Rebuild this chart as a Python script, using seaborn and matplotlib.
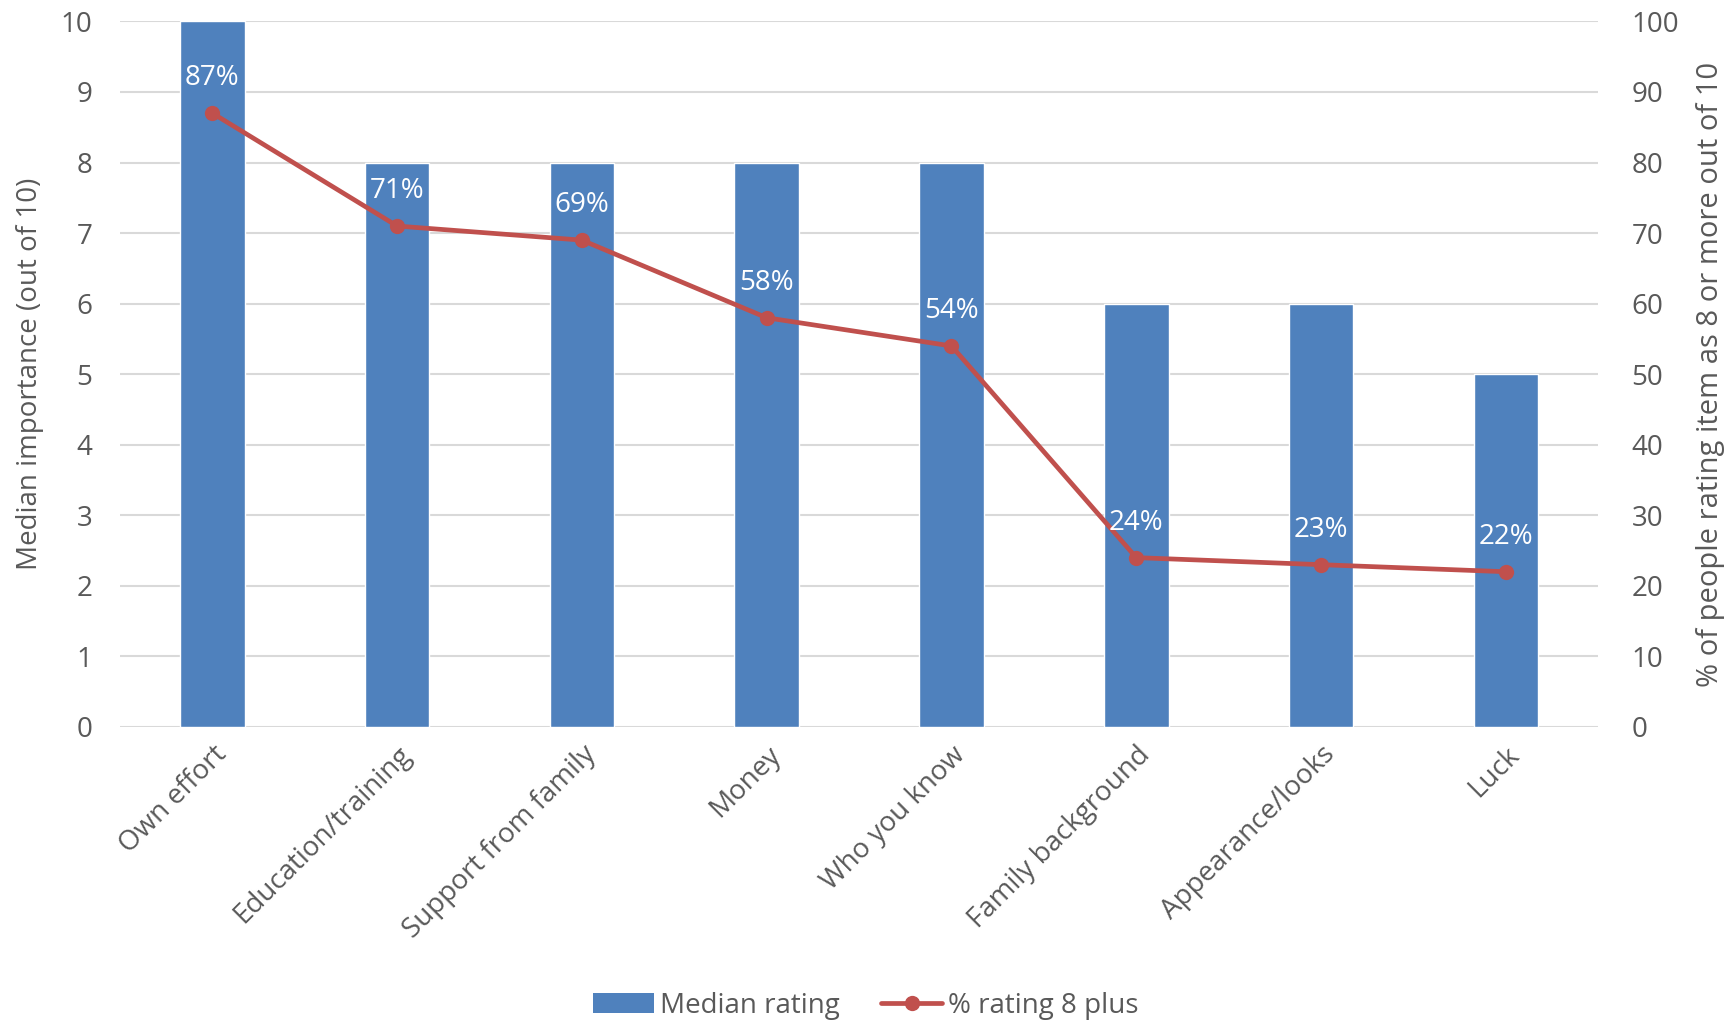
import matplotlib
matplotlib.use("Agg")
import matplotlib.pyplot as plt
import seaborn as sns
import pandas as pd
from matplotlib.patches import Patch
from matplotlib.lines import Line2D

categories = ["Own effort", "Education/training", "Support from family", "Money",
              "Who you know", "Family background", "Appearance/looks", "Luck"]
median_rating = [10, 8, 8, 8, 8, 6, 6, 5]
pct_8_plus = [87, 71, 69, 58, 54, 24, 23, 22]
left_ticks = list(range(0, 11))
right_ticks = list(range(0, 101, 10))

sns.set_style("white")
plt.rcParams['font.family'] = ['Open Sans', 'DejaVu Sans']

BLUE = "#4F81BD"
RED = "#C0504D"
GREY = "#595959"
GRID = "#D9D9D9"
FS = 20

df = pd.DataFrame({"cat": categories, "median": median_rating, "pct": pct_8_plus})

fig = plt.figure(figsize=(17.31, 10.21), dpi=100)
ax = fig.add_axes([0.0693, 0.288, 0.854, 0.691])

sns.barplot(data=df, x="cat", y="median", color=BLUE, saturation=1, width=0.35, ax=ax, zorder=2)
ax.set_ylim(0, 10)
ax.set_xlim(-0.5, len(categories) - 0.5)
ax.set_yticks(left_ticks)
ax.yaxis.grid(True, color=GRID, linewidth=1.5, zorder=0)
ax.set_axisbelow(True)
for s in ax.spines.values():
    s.set_visible(False)
ax.tick_params(axis="y", length=0, labelsize=FS, labelcolor=GREY, pad=20)
ax.tick_params(axis="x", length=0, labelsize=FS, labelcolor=GREY, pad=10)
ax.set_xticks(range(len(categories)))
ax.set_xticklabels(categories, rotation=45, ha="right", rotation_mode="anchor")
ax.set_xlabel("")
ax.set_ylabel("Median importance (out of 10)", fontsize=FS, color=GREY, labelpad=12)

ax2 = ax.twinx()
sns.lineplot(x=list(range(len(categories))), y=pct_8_plus, ax=ax2, color=RED, linewidth=3.4,
             marker="o", markersize=11, markeredgewidth=0, zorder=3)
ax2.set_ylim(0, 100)
ax2.set_yticks(right_ticks)
for s in ax2.spines.values():
    s.set_visible(False)
ax2.tick_params(axis="y", length=0, labelsize=FS, labelcolor=GREY, pad=24)
ax2.set_ylabel("% of people rating item as 8 or more out of 10", fontsize=21, color=GREY,
               labelpad=12)

for i, v in enumerate(pct_8_plus):
    ax2.annotate(f"{v}%", (i, v), xytext=(0, 15), textcoords="offset points",
                 ha="center", va="bottom", color="white", fontsize=FS)

handles = [Patch(facecolor=BLUE, edgecolor="none"),
           Line2D([0], [0], color=RED, linewidth=3.4, marker="o", markersize=11, markeredgewidth=0)]
fig.legend(handles, ["Median rating", "% rating 8 plus"], loc="center", bbox_to_anchor=(0.5, 0.015),
           ncol=2, frameon=False, fontsize=FS, labelcolor=GREY, handlelength=2.2,
           handletextpad=0.2, columnspacing=1.5)

fig.savefig("out.png", dpi=100)
